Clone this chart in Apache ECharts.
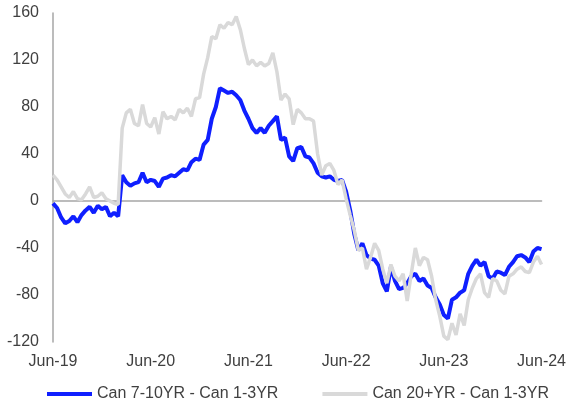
<!DOCTYPE html>
<html lang="en">
<head>
    <meta charset="UTF-8">
    <title>Canada curve spreads</title>
    <script src="https://cdn.jsdelivr.net/npm/echarts@6/dist/echarts.min.js"></script>
    <style>
        body { margin: 0; padding: 0; background: #fff; }
        #chart { width: 569px; height: 410px; }
    </style>
</head>
<body>
    <div id="chart"></div>
    <script>
        // months since Jun-19, one value every half month
        var step = 0.5;
        var tickYears = ['19', '20', '21', '22', '23', '24'];

        var can710 = [
            -2, -6, -14, -19, -17, -13, -18, -12, -8, -5, -10, -4, -7, -5, -13, -10, -13,
            22, 16, 13, 15, 16, 24, 16, 18, 17, 12, 19, 20, 22, 21, 24, 27, 26, 33, 36, 35,
            48, 52, 70, 80, 96, 94, 92, 93, 90, 86, 77, 70, 62, 58, 62, 58, 64, 68, 72,
            52, 54, 38, 34, 45, 46, 38, 37, 32, 24, 21, 20, 21, 18, 17, 18, 8,
            -8, -28, -42, -36, -46, -49, -50, -55, -70, -77, -56, -68, -75, -74, -70, -64,
            -62, -68, -66, -72, -74, -82, -88, -97, -100, -84, -82, -78, -76, -62, -55, -50,
            -55, -52, -64, -66, -60, -61, -63, -56, -52, -47, -46, -48, -52, -43, -40, -41
        ];

        var can20 = [
            22, 18, 12, 6, 3, 8, 2, 1, 6, 12, 3, 4, 7, 2, 0, -2, -3,
            62, 75, 78, 66, 64, 82, 66, 63, 71, 57, 76, 70, 72, 69, 78, 75, 79, 72, 87, 88,
            108, 122, 140, 138, 150, 147, 152, 150, 157, 146, 130, 116, 120, 115, 118, 115, 117, 126, 110,
            86, 91, 87, 65, 78, 75, 70, 70, 68, 40, 22, 30, 32, 26, 14, 18, 2,
            -12, -25, -42, -40, -58, -48, -36, -42, -58, -70, -54, -64, -68, -62, -85, -62,
            -40, -55, -48, -50, -64, -84, -98, -115, -118, -104, -114, -96, -106, -84, -74, -66,
            -62, -78, -82, -66, -68, -76, -79, -64, -62, -58, -56, -60, -61, -52, -47, -54
        ];

        function toPoints(values) {
            return values.map(function (v, i) { return [i * step, v]; });
        }

        var chart = echarts.init(document.getElementById('chart'), null, { renderer: 'canvas' });

        var labelStyle = { color: '#404040', fontSize: 16, fontFamily: 'Liberation Sans, Arial, sans-serif' };

        var option = {
            animation: false,
            grid: { left: 53, right: 26, top: 13, bottom: 68, containLabel: false },
            legend: {
                left: 42,
                top: 381,
                itemGap: 44,
                itemWidth: 45,
                itemHeight: 4,
                icon: 'rect',
                textStyle: labelStyle,
                data: ['Can 7-10YR - Can 1-3YR', 'Can 20+YR - Can 1-3YR']
            },
            xAxis: [
                {
                    // zero line
                    type: 'value', min: 0, max: 60, interval: 12,
                    position: 'bottom',
                    axisLine: { show: true, onZero: true, lineStyle: { color: '#a6a6a6', width: 1.5 } },
                    axisTick: { show: false },
                    axisLabel: { show: false },
                    splitLine: { show: false }
                },
                {
                    // date labels along the bottom
                    type: 'value', min: 0, max: 60, interval: 12,
                    position: 'bottom',
                    axisLine: { show: false, onZero: false },
                    axisTick: { show: false },
                    splitLine: { show: false },
                    axisLabel: Object.assign({
                        margin: 12,
                        formatter: function (v) { return 'Jun-' + tickYears[v / 12]; }
                    }, labelStyle)
                }
            ],
            yAxis: {
                type: 'value', min: -120, max: 160, interval: 40,
                axisLine: { show: true, lineStyle: { color: '#a6a6a6', width: 1.5 } },
                axisTick: { show: false },
                splitLine: { show: false },
                axisLabel: Object.assign({ margin: 14 }, labelStyle)
            },
            series: [
                {
                    name: 'Can 7-10YR - Can 1-3YR',
                    type: 'line',
                    xAxisIndex: 0,
                    showSymbol: false,
                    data: toPoints(can710),
                    itemStyle: { color: '#0f1fff' },
                    lineStyle: { color: '#0f1fff', width: 4 }
                },
                {
                    name: 'Can 20+YR - Can 1-3YR',
                    type: 'line',
                    xAxisIndex: 0,
                    showSymbol: false,
                    data: toPoints(can20),
                    itemStyle: { color: '#d9d9d9' },
                    lineStyle: { color: '#d9d9d9', width: 3.5 }
                }
            ]
        };

        chart.setOption(option);
    </script>
</body>
</html>
